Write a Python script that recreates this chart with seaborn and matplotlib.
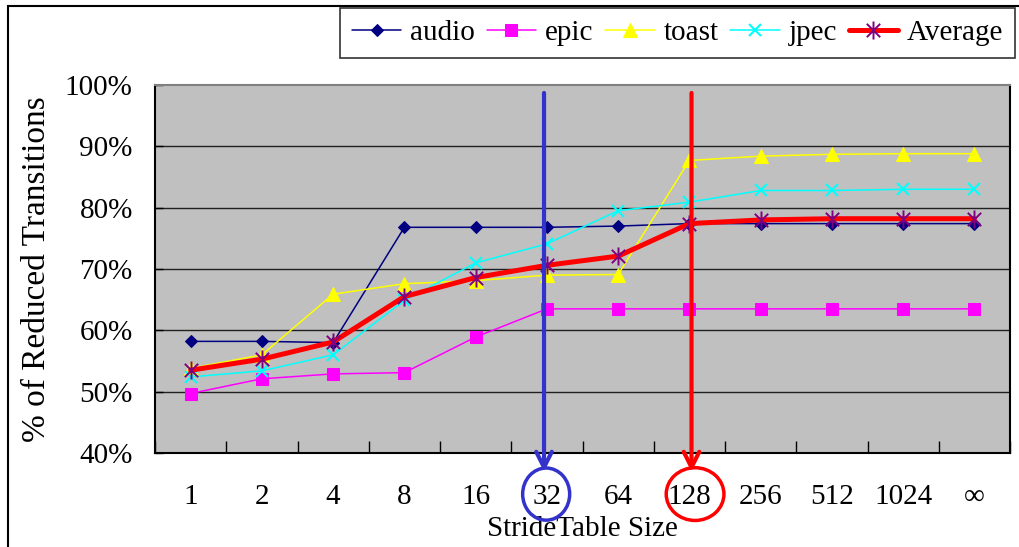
import numpy as np
import pandas as pd
import matplotlib
matplotlib.use("Agg")
import matplotlib.pyplot as plt
import seaborn as sns
from matplotlib.path import Path
from matplotlib.patches import Ellipse, Rectangle

# StrideTable sizes and reduced-transition percentages per benchmark
sizes = ["1", "2", "4", "8", "16", "32", "64", "128", "256", "512", "1024", "∞"]
audio = [58.2, 58.2, 58.0, 76.8, 76.8, 76.8, 77.0, 77.4, 77.4, 77.4, 77.4, 77.4]
epic = [49.7, 52.1, 52.9, 53.1, 58.9, 63.5, 63.5, 63.5, 63.5, 63.5, 63.5, 63.5]
toast = [53.8, 56.0, 65.9, 67.6, 68.1, 69.0, 69.1, 87.7, 88.4, 88.7, 88.8, 88.8]
jpec = [52.4, 53.4, 56.0, 64.9, 71.0, 74.1, 79.5, 80.9, 82.8, 82.8, 83.0, 83.0]
average = [53.5, 55.3, 58.1, 65.5, 68.6, 70.6, 72.1, 77.4, 78.0, 78.2, 78.2, 78.2]
yticks = [40, 50, 60, 70, 80, 90, 100]

sns.set_theme(style="white")
plt.rcParams["font.family"] = ["Liberation Serif", "DejaVu Serif"]

W, H = 1019, 547
fig = plt.figure(figsize=(W / 100, H / 100), dpi=100)
ax = fig.add_axes([155 / W, 1 - 453 / H, (1010 - 155) / W, (453 - 85) / H])
ax.set_facecolor("#C0C0C0")

x = np.arange(len(sizes))

# asterisk marker: an X crossed by a vertical stroke
star = Path(
    [(-1, -1), (1, 1), (-1, 1), (1, -1), (0, -1.35), (0, 1.35)],
    [Path.MOVETO, Path.LINETO, Path.MOVETO, Path.LINETO, Path.MOVETO, Path.LINETO],
)

series = [
    ("audio", audio, dict(color="#000080", marker="D", markersize=6.5, linewidth=1.1,
                          markeredgecolor="#000080")),
    ("epic", epic, dict(color="#FF00FF", marker="s", markersize=9, linewidth=1.1,
                        markeredgecolor="#FF00FF")),
    ("toast", toast, dict(color="#FFFF00", marker="^", markersize=10, linewidth=1.1,
                          markeredgecolor="#FFFF00")),
    ("jpec", jpec, dict(color="#00FFFF", marker="x", markersize=8, linewidth=1.1,
                        markeredgewidth=1.5, markeredgecolor="#00FFFF")),
    ("Average", average, dict(color="#FF0000", marker=star, markersize=13, linewidth=3.6,
                              markeredgewidth=1.4, markeredgecolor="#800080",
                              markerfacecolor="none")),
]
for name, vals, kw in series:
    sns.lineplot(x=x, y=vals, ax=ax, label=name, **kw)

ax.set_xlim(-0.5, len(sizes) - 0.5)
ax.set_ylim(40, 100)

# horizontal gridlines
for v in yticks[1:-1]:
    ax.axhline(v, color="#202020", linewidth=1.0, zorder=0.5)

ax.set_yticks(yticks)
ax.set_yticklabels([f"{v}%" for v in yticks])
ax.set_xticks(x)
ax.set_xticklabels(sizes)
ax.set_xticks(np.arange(-0.5, len(sizes)), minor=True)
ax.tick_params(axis="x", which="major", length=0, pad=22, labelsize=21, colors="black")
ax.tick_params(axis="x", which="minor", direction="in", length=9, width=1, colors="black", bottom=True)
ax.tick_params(axis="y", which="major", direction="in", length=6, width=1, pad=16,
               labelsize=21, colors="black", left=True)

for side in ["left", "bottom", "right"]:
    ax.spines[side].set_color("black")
    ax.spines[side].set_linewidth(1.5)
ax.spines["top"].set_color("#808080")
ax.spines["top"].set_linewidth(1.5)

ax.set_xlabel("StrideTable Size", fontsize=21, labelpad=5, color="black")
ax.set_ylabel("% of Reduced Transitions", fontsize=24, labelpad=9, color="black")

# highlighted table sizes
blue = "#3333CC"
red = "#FF0000"
ax.annotate("", xy=(4.96, 36.9), xytext=(4.96, 98.7),
            arrowprops=dict(arrowstyle="->", color=blue, lw=3, mutation_scale=28,
                            shrinkA=0, shrinkB=0),
            annotation_clip=False, zorder=6)
ax.annotate("", xy=(7.03, 36.9), xytext=(7.03, 98.7),
            arrowprops=dict(arrowstyle="->", color=red, lw=3, mutation_scale=28,
                            shrinkA=0, shrinkB=0),
            annotation_clip=False, zorder=6)
ax.add_patch(Ellipse((4.99, 33.3), 0.66, 8.5, fill=False, edgecolor=blue, lw=2.5,
                     clip_on=False, zorder=6))
ax.add_patch(Ellipse((7.08, 33.3), 0.81, 8.6, fill=False, edgecolor=red, lw=2.5,
                     clip_on=False, zorder=6))

leg = ax.legend(loc="upper right", bbox_to_anchor=(1015 / W, 1 - 8 / H),
                bbox_transform=fig.transFigure, borderaxespad=0, ncol=5, frameon=True,
                fancybox=False, fontsize=21, handlelength=1.7, handletextpad=0.3,
                columnspacing=0.4, borderpad=0.4, edgecolor="black")
leg.get_frame().set_linewidth(1.2)
for t in leg.get_texts():
    t.set_color("black")

# outer frame
fig.add_artist(Rectangle((8 / W, -0.05), 1.2, 1.05 - 6 / H, transform=fig.transFigure,
                         fill=False, edgecolor="black", linewidth=1.5))

fig.savefig("out.png", dpi=100)
